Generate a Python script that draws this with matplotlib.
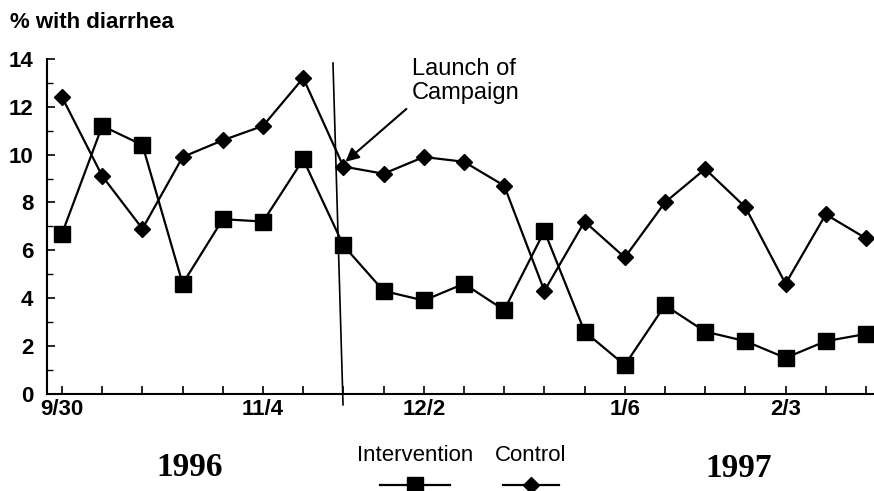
# Diarrhea prevalence, intervention vs control, weekly 1996-1997
import matplotlib.pyplot as plt
from matplotlib.lines import Line2D

semanas = ['9/30', '10/7', '10/14', '10/21', '10/28', '11/4', '11/11', '11/18',
           '11/25', '12/2', '12/9', '12/16', '12/23', '12/30', '1/6', '1/13',
           '1/20', '1/27', '2/3', '2/10', '2/17']
intervencion = [6.7, 11.2, 10.4, 4.6, 7.3, 7.2, 9.8, 6.2, 4.3, 3.9, 4.6,
                3.5, 6.8, 2.6, 1.2, 3.7, 2.6, 2.2, 1.5, 2.2, 2.5]
control = [12.4, 9.1, 6.9, 9.9, 10.6, 11.2, 13.2, 9.5, 9.2, 9.9, 9.7,
           8.7, 4.3, 7.2, 5.7, 8.0, 9.4, 7.8, 4.6, 7.5, 6.5]
etiquetas = {'9/30', '11/4', '12/2', '1/6', '2/3'}

plt.rcParams['font.family'] = ['Liberation Sans', 'DejaVu Sans']

fig = plt.figure(figsize=(8.74, 4.91), dpi=100)
ax = fig.add_axes([0.054, 0.198, 0.946, 0.682])

x = list(range(len(semanas)))
ax.plot(x, intervencion, color='black', lw=1.6, marker='s', ms=11, zorder=3)
ax.plot(x, control, color='black', lw=1.6, marker='D', ms=8, zorder=3)

ax.set_ylim(0, 14)
ax.set_xlim(-0.37, 20.2)
ax.set_yticks(range(0, 15, 2))
ax.set_yticks(range(1, 15, 2), minor=True)
ax.set_xticks(x)
ax.set_xticklabels([s if s in etiquetas else '' for s in semanas])
ax.tick_params(axis='both', direction='in', length=6, width=1.2, labelsize=16)
ax.tick_params(axis='y', pad=10)
ax.tick_params(axis='y', which='minor', direction='in', length=4, width=1)
for t in ax.get_xticklabels() + ax.get_yticklabels():
    t.set_fontweight('bold')
ax.spines['top'].set_visible(False)
ax.spines['right'].set_visible(False)
ax.spines['left'].set_linewidth(1.5)
ax.spines['bottom'].set_linewidth(1.5)

# Linea del lanzamiento de la campana
ax.plot([6.74, 6.99], [13.83, -0.46], color='black', lw=1.2, clip_on=False, zorder=2)
ax.annotate('Launch of\nCampaign', xy=(7.05, 9.7), xytext=(8.7, 14.05),
            ha='left', va='top', fontsize=17, linespacing=1.15,
            arrowprops=dict(arrowstyle='-|>', color='black', lw=1.5,
                            mutation_scale=20, shrinkA=0, shrinkB=0,
                            relpos=(-0.05, -0.1)),
            zorder=4)

fig.text(0.012, 0.955, '% with diarrhea', fontsize=16, fontweight='bold', va='center')
fig.text(0.217, 0.048, '1996', fontsize=24, fontweight='bold', ha='center', va='center',
         family=['Liberation Serif', 'DejaVu Serif'])
fig.text(0.845, 0.045, '1997', fontsize=24, fontweight='bold', ha='center', va='center',
         family=['Liberation Serif', 'DejaVu Serif'])

# Leyenda manual: texto arriba, simbolo abajo
fig.text(0.475, 0.072, 'Intervention', fontsize=16, ha='center', va='center')
fig.text(0.607, 0.072, 'Control', fontsize=16, ha='center', va='center')
fig.add_artist(Line2D([0.435, 0.515], [0.013, 0.013], color='black', lw=1.6,
                      transform=fig.transFigure))
fig.add_artist(Line2D([0.475], [0.013], color='black', marker='s', ms=11,
                      transform=fig.transFigure))
fig.add_artist(Line2D([0.575, 0.64], [0.013, 0.013], color='black', lw=1.6,
                      transform=fig.transFigure))
fig.add_artist(Line2D([0.607], [0.013], color='black', marker='D', ms=8,
                      transform=fig.transFigure))

fig.savefig('out.png', dpi=100)
